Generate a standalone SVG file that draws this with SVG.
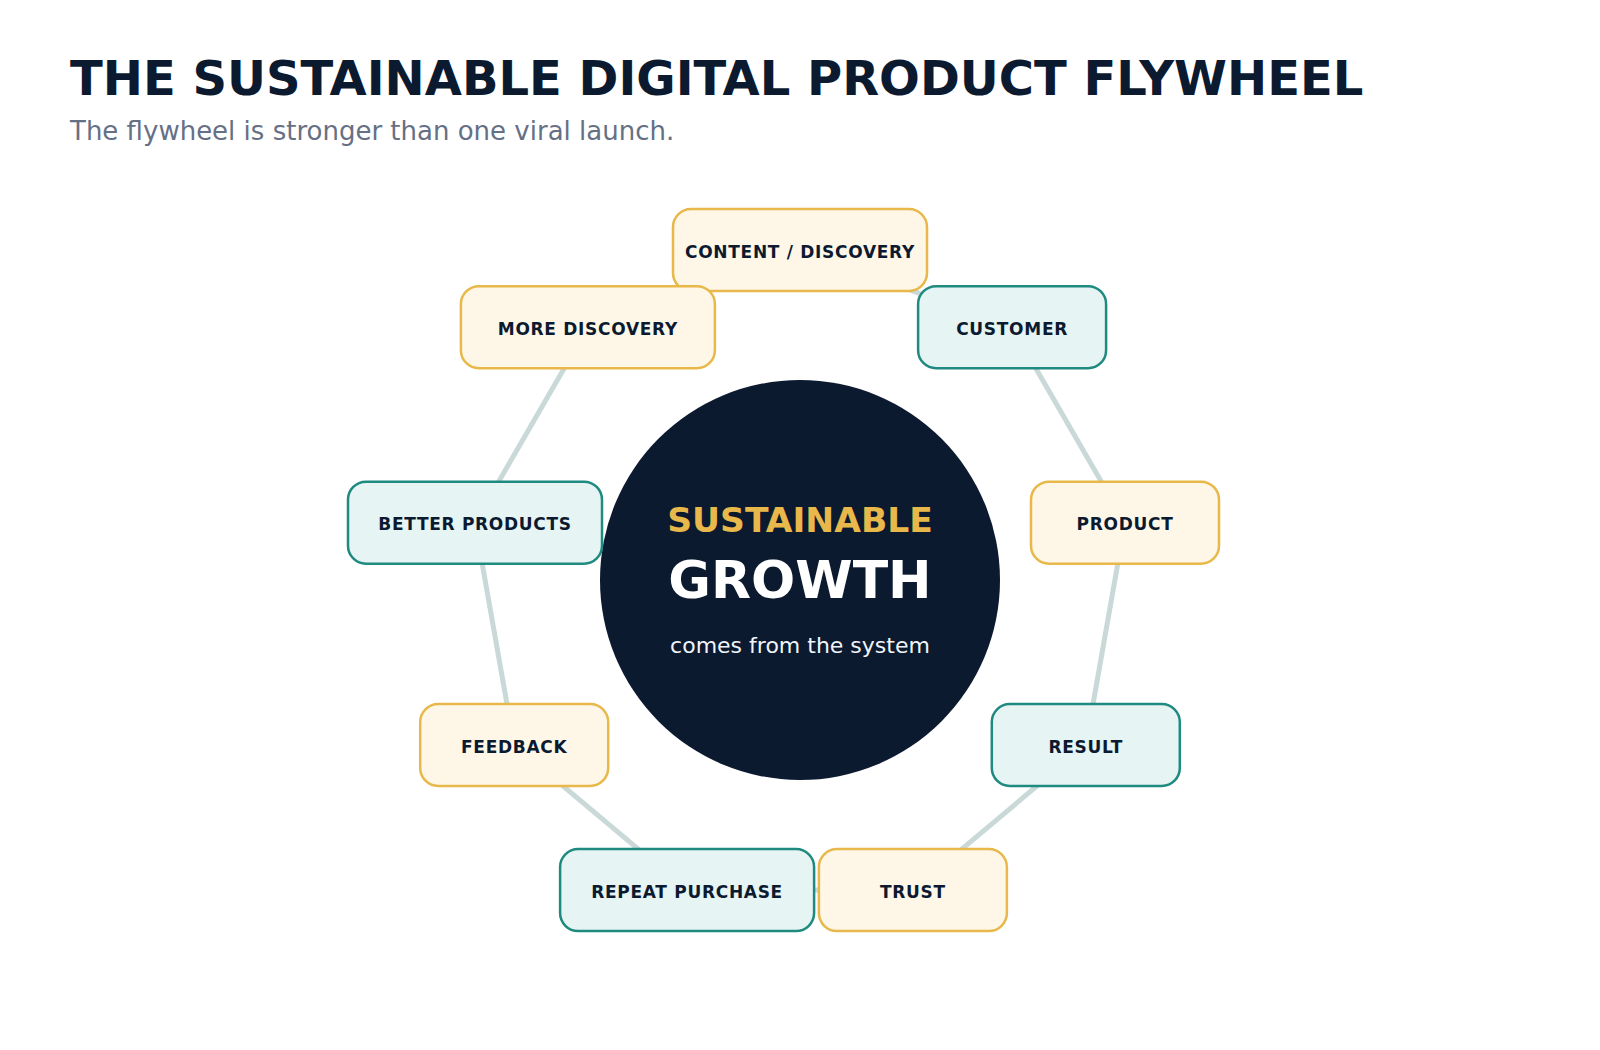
<svg xmlns="http://www.w3.org/2000/svg" width="1600" height="1050" viewBox="0 0 1600 1050">
<style>
.title{font-family:"DejaVu Sans",sans-serif;font-weight:bold;font-size:48px;fill:#0c1a30}
.sub{font-family:"DejaVu Sans",sans-serif;font-size:26px;fill:#667085}
.link{stroke:#c8d9d7;stroke-width:5;fill:none;stroke-linecap:round}
.gold rect{fill:#fef7e8;stroke:#e8b84a;stroke-width:2.5}
.teal rect{fill:#e6f4f3;stroke:#1f8a80;stroke-width:2.5}
.lbl{font-family:"DejaVu Sans",sans-serif;font-weight:bold;font-size:17px;letter-spacing:0.7px;fill:#0c1a30;text-anchor:middle}
.c1{font-family:"DejaVu Sans",sans-serif;font-weight:bold;font-size:34.5px;fill:#e8b84a;text-anchor:middle}
.c2{font-family:"DejaVu Sans",sans-serif;font-weight:bold;font-size:52px;fill:#ffffff;text-anchor:middle}
.c3{font-family:"DejaVu Sans",sans-serif;font-size:22px;fill:#f1f5f9;text-anchor:middle}
</style>
<rect width="1600" height="1050" fill="#ffffff"/>
<text class="title" x="70" y="95">THE SUSTAINABLE DIGITAL PRODUCT FLYWHEEL</text>
<text class="sub" x="70" y="140">The flywheel is stronger than one viral launch.</text>
<g id="connectors">
<line class="link" x1="800" y1="250" x2="1012.1" y2="327.2"/>
<line class="link" x1="1012.1" y1="327.2" x2="1125" y2="522.7"/>
<line class="link" x1="1125" y1="522.7" x2="1085.8" y2="745"/>
<line class="link" x1="1085.8" y1="745" x2="912.9" y2="890.1"/>
<line class="link" x1="912.9" y1="890.1" x2="687.1" y2="890.1"/>
<line class="link" x1="687.1" y1="890.1" x2="514.2" y2="745"/>
<line class="link" x1="514.2" y1="745" x2="475" y2="522.7"/>
<line class="link" x1="475" y1="522.7" x2="587.9" y2="327.2"/>
<line class="link" x1="587.9" y1="327.2" x2="800" y2="250"/>
</g>
<g id="hub">
<circle cx="800" cy="580" r="200" fill="#0c1a30"/>
<text class="c1" x="800" y="532">SUSTAINABLE</text>
<text class="c2" x="800" y="598">GROWTH</text>
<text class="c3" x="800" y="653">comes from the system</text>
</g>
<g id="node-content" class="gold"><rect x="673" y="209" width="254" height="82" rx="18"/><text class="lbl" x="800" y="257.5">CONTENT / DISCOVERY</text></g>
<g id="node-customer" class="teal"><rect x="918.1" y="286.2" width="188" height="82" rx="18"/><text class="lbl" x="1012.1" y="334.7">CUSTOMER</text></g>
<g id="node-product" class="gold"><rect x="1031" y="481.7" width="188" height="82" rx="18"/><text class="lbl" x="1125" y="530.2">PRODUCT</text></g>
<g id="node-result" class="teal"><rect x="991.8" y="704" width="188" height="82" rx="18"/><text class="lbl" x="1085.8" y="752.5">RESULT</text></g>
<g id="node-trust" class="gold"><rect x="818.9" y="849.1" width="188" height="82" rx="18"/><text class="lbl" x="912.9" y="897.6">TRUST</text></g>
<g id="node-repeat" class="teal"><rect x="560.1" y="849.1" width="254" height="82" rx="18"/><text class="lbl" x="687.1" y="897.6">REPEAT PURCHASE</text></g>
<g id="node-feedback" class="gold"><rect x="420.2" y="704" width="188" height="82" rx="18"/><text class="lbl" x="514.2" y="752.5">FEEDBACK</text></g>
<g id="node-better" class="teal"><rect x="348" y="481.7" width="254" height="82" rx="18"/><text class="lbl" x="475" y="530.2">BETTER PRODUCTS</text></g>
<g id="node-more" class="gold"><rect x="460.9" y="286.2" width="254" height="82" rx="18"/><text class="lbl" x="587.9" y="334.7">MORE DISCOVERY</text></g>
</svg>
